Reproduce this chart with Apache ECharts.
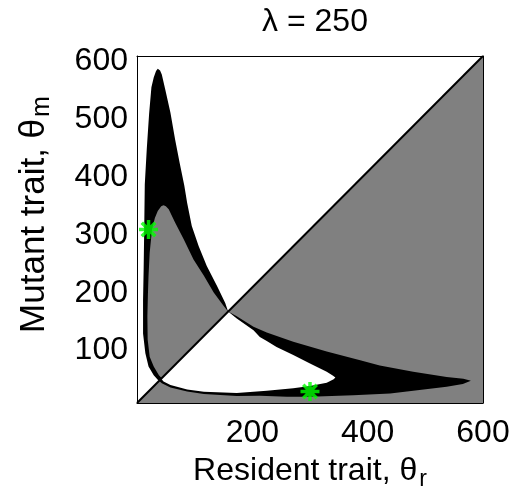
<!DOCTYPE html>
<html>
<head>
<meta charset="utf-8">
<script src="https://cdn.jsdelivr.net/npm/echarts@6/dist/echarts.min.js"></script>
<style>
html,body{margin:0;padding:0;background:#fff;}
#chart{width:512px;height:498px;}
</style>
</head>
<body>
<div id="chart"></div>
<script>
// Tick labels
const xTickLabels = [200, 400, 600];
const yTickLabels = [100, 200, 300, 400, 500, 600];

// Region below the diagonal (theta_m < theta_r): gray
const lowerTriangle = [[0, 0], [600, 0], [600, 600]];

// Black region (outer outline, encloses the gray and white lobes)
const blackRegion = [
  [36, 578], [33, 574], [29, 563], [25, 546], [21, 500], [17, 440], [13.5, 378],
  [12.5, 300], [11.5, 230], [10.5, 178], [10.5, 120], [14.5, 86], [20, 63],
  [29, 48], [36, 40], [43, 34], [58, 27], [87, 20], [116, 15.5], [173, 12],
  [213, 12.5], [260, 11], [300, 11], [375, 13.5], [439, 16.5], [479, 21],
  [537, 28], [565, 33], [579, 38.5], [566, 42], [537, 45], [479, 54],
  [421, 65], [387, 74], [329, 89], [271, 106], [225, 122], [202, 132],
  [173, 150], [158, 158], [153, 173], [139, 202], [121, 237], [107, 271],
  [95, 306], [87, 346], [82, 376], [74, 415], [66, 456], [58, 502],
  [49, 542], [43, 568], [40, 575]
];

// Gray lobe above the diagonal
const grayLobe = [
  [43, 43], [38, 48], [29, 63], [22, 80], [18.5, 110], [18, 150], [19, 190],
  [20, 220], [22, 260], [26, 300], [31, 320], [36, 332], [42, 340], [46, 342],
  [50, 340], [55, 335], [66, 312], [81, 283], [98, 248], [116, 220],
  [133, 191], [150, 168], [158, 158]
];

// White lobe below the diagonal
const whiteLobe = [
  [42, 42], [158, 158], [173, 146], [202, 126], [213, 114], [225, 107],
  [242, 97], [271, 83], [300, 68.5], [329, 54], [340, 47], [344, 44],
  [341, 41], [329, 35], [300, 29.5], [271, 25.5], [225, 21], [173, 17.5],
  [116, 19.5], [87, 23.5], [58, 31], [46, 37]
];

// Diagonal theta_m = theta_r
const diagonal = [[0, 0], [600, 600]];

// Singular strategies (green asterisks)
const singularPoints = [[20, 300], [300, 20]];

const FONT = 'Liberation Sans, Arial, Helvetica, sans-serif';

function polygonSeries(points, color, z) {
  return {
    type: 'custom',
    coordinateSystem: 'cartesian2d',
    z: z,
    silent: true,
    clip: true,
    data: [[points[0][0], points[0][1]]],
    renderItem: function (params, api) {
      const pts = points.map(function (p) { return api.coord(p); });
      return {
        type: 'polygon',
        shape: { points: pts },
        style: { fill: color, stroke: null }
      };
    }
  };
}

const asterisk = 'path://M0,-9L0,9M-9,0L9,0M-6.4,-6.4L6.4,6.4M-6.4,6.4L6.4,-6.4';

const chart = echarts.init(document.getElementById('chart'), null, { renderer: 'canvas' });

const axisCommon = {
  type: 'value',
  min: 0,
  max: 600,
  splitLine: { show: false },
  axisTick: { show: false },
  axisLine: { show: true, onZero: false, lineStyle: { color: '#000', width: 1 } },
  z: 10
};

chart.setOption({
  animation: false,
  backgroundColor: '#fff',
  title: {
    text: 'λ = 250',
    left: 310,
    textAlign: 'center',
    top: 1,
    textStyle: { fontFamily: FONT, fontSize: 32, fontWeight: 'normal', color: '#000' }
  },
  grid: { left: 137, right: 29, top: 56, bottom: 95, containLabel: false, outerBoundsMode: 'none' },
  xAxis: [
    Object.assign({}, axisCommon, {
      position: 'bottom',
      interval: 200,
      axisLabel: {
        margin: 14,
        fontFamily: FONT, fontSize: 32, color: '#000',
        formatter: function (v) { return xTickLabels.indexOf(v) >= 0 ? String(v) : ''; }
      },
      name: '{a|Resident trait, θ}{b|r}',
      nameLocation: 'middle',
      nameGap: 52,
      nameMoveOverlap: false,
      nameTextStyle: {
        rich: {
          a: { fontFamily: FONT, fontSize: 32, color: '#000', lineHeight: 36, verticalAlign: 'top' },
          b: { fontFamily: FONT, fontSize: 23, color: '#000', lineHeight: 23, verticalAlign: 'bottom', padding: [33, 0, 0, 2] }
        }
      }
    }),
    Object.assign({}, axisCommon, {
      position: 'top',
      axisLabel: { show: false }
    })
  ],
  yAxis: [
    Object.assign({}, axisCommon, {
      position: 'left',
      interval: 100,
      axisLabel: {
        margin: 9,
        formatter: function (v) { return yTickLabels.indexOf(v) >= 0 ? '{v|' + v + '}' : ''; },
        rich: {
          v: { fontFamily: FONT, fontSize: 32, color: '#000', lineHeight: 36, padding: [11, 0, 0, 0] }
        }
      },
      name: '{p| }{a|Mutant trait, θ}{b|m}',
      nameLocation: 'middle',
      nameGap: 82,
      nameTextStyle: {
        rich: {
          p: { fontSize: 10, width: 30 },
          a: { fontFamily: FONT, fontSize: 35, color: '#000', lineHeight: 38, verticalAlign: 'top' },
          b: { fontFamily: FONT, fontSize: 25, color: '#000', lineHeight: 25, verticalAlign: 'bottom', padding: [26, 0, 0, 2] }
        }
      }
    }),
    Object.assign({}, axisCommon, {
      position: 'right',
      axisLabel: { show: false }
    })
  ],
  series: [
    polygonSeries(lowerTriangle, '#808080', 1),
    polygonSeries(blackRegion, '#000000', 2),
    polygonSeries(grayLobe, '#808080', 3),
    polygonSeries(whiteLobe, '#ffffff', 3),
    {
      type: 'line',
      data: diagonal,
      z: 4,
      symbol: 'none',
      silent: true,
      lineStyle: { color: '#000', width: 2 }
    },
    {
      type: 'scatter',
      data: singularPoints,
      z: 5,
      silent: true,
      symbol: asterisk,
      symbolSize: 19,
      itemStyle: { color: '#00ff00', borderColor: '#00ff00', borderWidth: 3.5 }
    }
  ]
});
</script>
</body>
</html>
